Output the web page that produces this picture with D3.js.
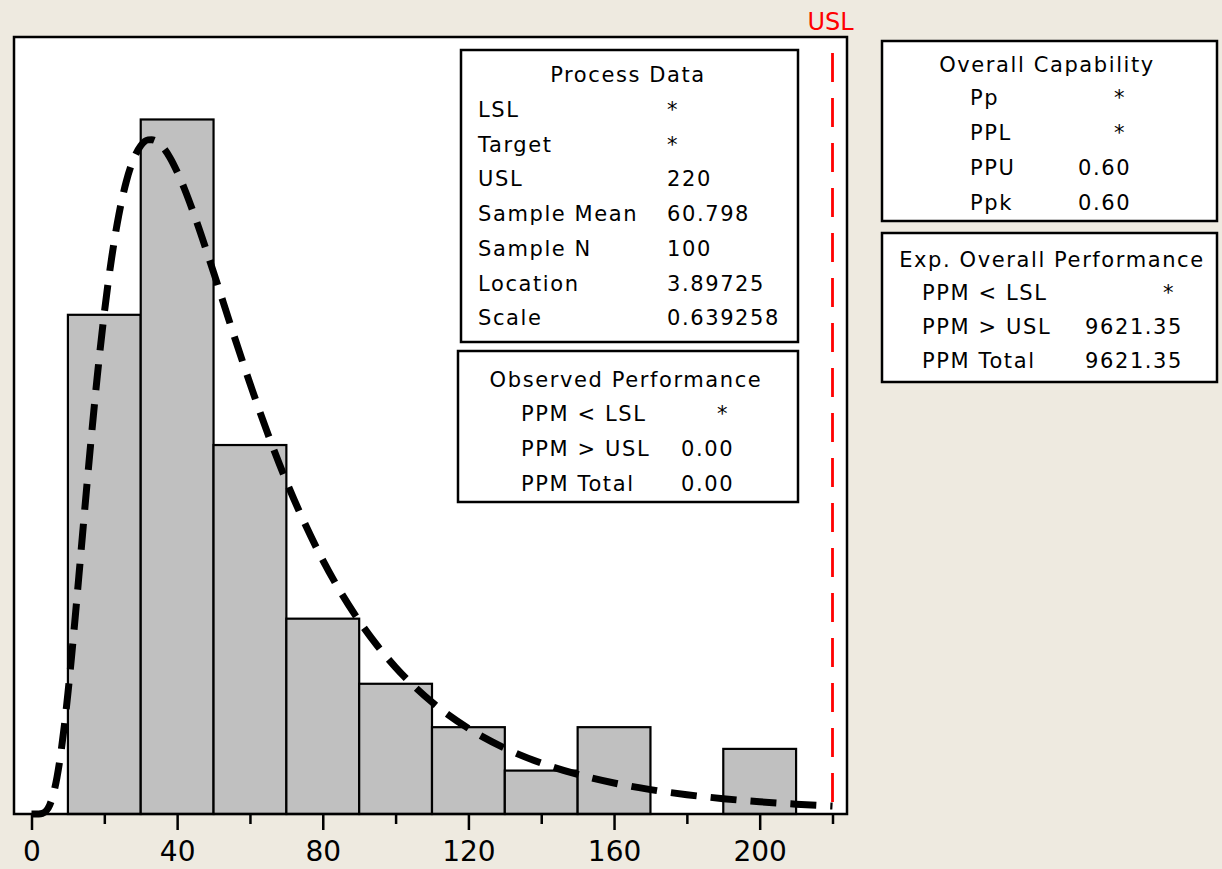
<!DOCTYPE html>
<html><head><meta charset="utf-8">
<script src="https://cdn.jsdelivr.net/npm/d3@7"></script>
<style>
html,body{margin:0;padding:0;background:#EEEAE0;}
svg{display:block;}
text{font-family:"DejaVu Sans",Verdana,sans-serif;fill:#000;}
</style></head><body>
<svg id="chart" width="1222" height="869"></svg>
<script>
// ---- data ----
const binStarts = [10, 30, 50, 70, 90, 110, 130, 150, 170, 190];
const binWidth = 20;
const binCounts = [23, 32, 17, 9, 6, 4, 2, 4, 0, 3];
const fitX = [0, 1, 2, 3, 4, 5, 6, 7, 8, 9, 10, 11, 12, 13, 14, 15, 16, 17, 18, 19, 20, 22, 24, 25, 26, 28, 30, 32, 33, 35, 36, 38, 40, 42, 45, 50, 55, 60, 65, 70, 75, 80, 85, 90, 95, 100, 110, 120, 130, 140, 150, 160, 170, 180, 190, 200, 210, 220];
const fitY = [0, 0, 0.002, 0.029, 0.139, 0.413, 0.917, 1.69, 2.737, 4.038, 5.559, 7.252, 9.06, 10.94, 12.85, 14.746, 16.59, 18.37, 20.058, 21.63, 23.085, 25.61, 27.62, 28.43, 29.12, 30.16, 30.79, 31.06, 31.07, 30.91, 30.74, 30.25, 29.59, 28.81, 27.46, 24.96, 22.36, 19.84, 17.48, 15.33, 13.41, 11.7, 10.2, 8.893, 7.752, 6.76, 5.153, 3.944, 3.034, 2.347, 1.826, 1.429, 1.124, 0.889, 0.707, 0.565, 0.454, 0.366];
const majorTicks = [0, 40, 80, 120, 160, 200];
const minorTicks = [20, 60, 100, 140, 180, 220];
const uslValue = 220;
const uslLabel = "USL";

const processTitle = "Process Data";
const processLabels = ["LSL", "Target", "USL", "Sample Mean", "Sample N", "Location", "Scale"];
const processValues = ["*", "*", "220", "60.798", "100", "3.89725", "0.639258"];
const observedTitle = "Observed Performance";
const observedLabels = ["PPM < LSL", "PPM > USL", "PPM Total"];
const observedValues = ["*", "0.00", "0.00"];
const capTitle = "Overall Capability";
const capLabels = ["Pp", "PPL", "PPU", "Ppk"];
const capValues = ["*", "*", "0.60", "0.60"];
const expTitle = "Exp. Overall Performance";
const expLabels = ["PPM < LSL", "PPM > USL", "PPM Total"];
const expValues = ["*", "9621.35", "9621.35"];

// ---- layout ----
const svg = d3.select("#chart");
const frame = {x: 14, y: 37, w: 833, h: 777};
const x = d3.scaleLinear().domain([0, 220]).range([31.5, 832.5]);
const y = d3.scaleLinear().domain([0, 35.8]).range([frame.y + frame.h, frame.y]);

svg.append("rect").attr("x", frame.x).attr("y", frame.y).attr("width", frame.w).attr("height", frame.h)
  .attr("fill", "#fff");

// bars
svg.append("g").selectAll("rect").data(binStarts.map((s, i) => ({s, c: binCounts[i]})).filter(d => d.c > 0))
  .join("rect")
  .attr("x", d => x(d.s)).attr("width", d => x(d.s + binWidth) - x(d.s))
  .attr("y", d => y(d.c)).attr("height", d => y(0) - y(d.c))
  .attr("fill", "#C0C0C0").attr("stroke", "#000").attr("stroke-width", 2.2);

// USL line
svg.append("line").attr("x1", x(uslValue)).attr("x2", x(uslValue))
  .attr("y1", frame.y).attr("y2", frame.y + frame.h)
  .attr("stroke", "#FF0000").attr("stroke-width", 2.8)
  .attr("stroke-dasharray", "29,16").attr("stroke-dashoffset", 29);
svg.append("text").attr("x", x(uslValue) - 2).attr("y", 30).attr("text-anchor", "middle")
  .style("font-size", "24px").style("fill", "#FF0000").text(uslLabel);

// fitted curve
const line = d3.line().x(d => x(d[0])).y(d => y(d[1])).curve(d3.curveMonotoneX);
svg.append("path").datum(fitX.map((v, i) => [v, fitY[i]]))
  .attr("d", line).attr("fill", "none").attr("stroke", "#000")
  .attr("stroke-width", 7).attr("stroke-dasharray", "26,14");

// frame border
svg.append("rect").attr("x", frame.x).attr("y", frame.y).attr("width", frame.w).attr("height", frame.h)
  .attr("fill", "none").attr("stroke", "#000").attr("stroke-width", 2.5);

// axes
const axMaj = svg.append("g").attr("transform", `translate(0,${frame.y + frame.h})`)
  .call(d3.axisBottom(x).tickValues(majorTicks).tickSize(16).tickPadding(11).tickFormat(d3.format("d")));
const axMin = svg.append("g").attr("transform", `translate(0,${frame.y + frame.h})`)
  .call(d3.axisBottom(x).tickValues(minorTicks).tickSize(10).tickFormat(""));
[axMaj, axMin].forEach(g => {
  g.select(".domain").remove();
  g.selectAll(".tick line").attr("stroke", "#000").attr("stroke-width", 2.5);
});
axMaj.selectAll(".tick text").style("font-size", "28px").style("font-family", "DejaVu Sans").attr("fill", "#000");

// text boxes
function box(cfg) {
  const g = svg.append("g");
  g.append("rect").attr("x", cfg.x).attr("y", cfg.y).attr("width", cfg.w).attr("height", cfg.h)
    .attr("fill", "#fff").attr("stroke", "#000").attr("stroke-width", 2.5);
  const ts = {"font-size": "21px", "letter-spacing": "1.6px"};
  const t = g.append("text").attr("x", cfg.titleX).attr("y", cfg.titleY).attr("text-anchor", "middle").text(cfg.title);
  Object.entries(ts).forEach(([k, v]) => t.style(k, v));
  cfg.labels.forEach((lab, i) => {
    const yy = cfg.rowY + i * cfg.step;
    const a = g.append("text").attr("x", cfg.labelX).attr("y", yy).text(lab);
    Object.entries(ts).forEach(([k, v]) => a.style(k, v));
    const val = cfg.values[i];
    const isStar = val === "*";
    const b = g.append("text")
      .attr("x", isStar && cfg.starX != null ? cfg.starX : cfg.valueX)
      .attr("y", yy)
      .attr("text-anchor", isStar && cfg.starX != null ? "middle" : "start")
      .text(val);
    Object.entries(ts).forEach(([k, v]) => b.style(k, v));
  });
}
box({x: 461, y: 50, w: 337, h: 292, title: processTitle, titleX: 628, titleY: 82,
     labels: processLabels, values: processValues, labelX: 478, valueX: 667, starX: null, rowY: 117, step: 34.7});
box({x: 458, y: 351, w: 340, h: 151, title: observedTitle, titleX: 626, titleY: 387,
     labels: observedLabels, values: observedValues, labelX: 521, valueX: 681, starX: 723, rowY: 421, step: 35});
box({x: 882, y: 41, w: 335, h: 180, title: capTitle, titleX: 1047, titleY: 72,
     labels: capLabels, values: capValues, labelX: 970, valueX: 1078, starX: 1120, rowY: 105, step: 35});
box({x: 882, y: 233, w: 335, h: 149, title: expTitle, titleX: 1052, titleY: 267,
     labels: expLabels, values: expValues, labelX: 922, valueX: 1085, starX: 1169, rowY: 300, step: 34});
</script>
</body></html>
